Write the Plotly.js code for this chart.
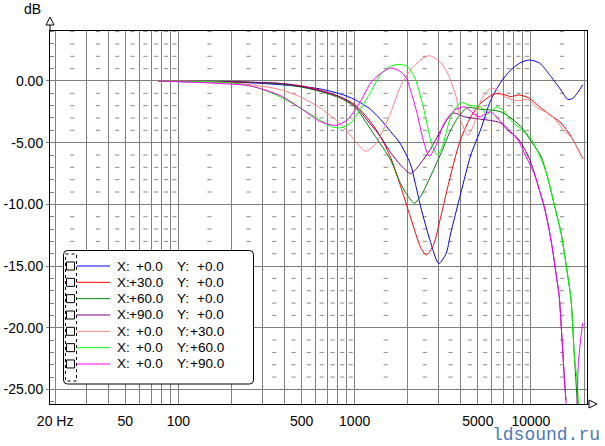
<!DOCTYPE html>
<html>
<head>
<meta charset="utf-8">
<script src="https://cdn.plot.ly/plotly-3.0.1.min.js"></script>
<style>html,body{margin:0;padding:0;background:#fff;}#chart{width:605px;height:446px;}</style>
</head>
<body>
<div id="chart"></div>
<script>
// ---------- data ----------
const fBlue = [77,100,200,300,500,640,830,1000,1230,1400,1600,1820,2080,2200,2370,2700,3000,3300,3500,4000,4560,5200,5900,6750,7690,8770,9800,11200,13000,14800,16200,17300,18500,19700];
const dbBlue = [0,-0.05,-0.1,-0.2,-0.45,-0.65,-1.05,-1.5,-2.3,-3.1,-4.1,-5.1,-6.8,-8.2,-10.2,-13.1,-14.8,-14.0,-12.4,-9.1,-6.0,-3.9,-1.6,-0.1,0.9,1.5,1.7,1.45,0.35,-0.73,-1.5,-1.4,-0.9,-0.3];

const fRed = [77,100,200,380,500,640,830,1000,1230,1400,1600,1820,2080,2370,2550,2800,3080,3400,3750,4000,4560,5200,6200,7020,7690,8530,9800,10900,12400,14800,16900,19700];
const dbRed = [0,-0.05,-0.08,-0.2,-0.4,-0.75,-1.3,-1.9,-3.3,-4.5,-6.2,-8.5,-11.1,-13.5,-14.1,-13.3,-11.0,-8.4,-6.0,-4.7,-2.9,-1.8,-1.05,-1.1,-1.27,-1.13,-1.4,-1.95,-2.6,-3.4,-4.5,-6.3];

const fGreen = [77,200,380,500,640,830,1000,1230,1400,1600,1820,2000,2180,2400,2700,3080,3500,3800,4300,4560,5200,5900,6750,7690,8770,9930,11400,12420,13500,14810,15800,16880,17640,18500];
const dbGreen = [0,-0.05,-0.25,-0.5,-0.85,-1.4,-2.1,-3.9,-5.1,-6.4,-8.3,-9.3,-9.9,-9.2,-7.7,-5.9,-4.0,-3.1,-2.2,-2.15,-2.3,-2.35,-2.5,-3.0,-3.7,-4.8,-6.1,-7.8,-9.9,-12.3,-14.8,-17.7,-22.3,-27];

const fPurple = [77,200,380,500,640,830,1000,1230,1400,1600,1820,2080,2300,2700,3080,3600,4200,5200,5900,6750,7380,8420,9350,9930,10680,11150,11900,12700,13280,13870,14480,14810,15140,15460,15800];
const dbPurple = [0,-0.05,-0.2,-0.45,-0.8,-1.3,-2.0,-3.5,-4.5,-5.8,-6.8,-7.5,-6.9,-5.5,-4.0,-2.6,-2.9,-3.1,-3.2,-3.4,-4.0,-4.65,-5.7,-6.5,-7.9,-8.8,-10.2,-12.1,-13.7,-15.6,-17.5,-19.6,-21.8,-24.0,-25.9];

const fPink = [77,150,256,380,493,640,833,1000,1150,1300,1405,1600,1825,2080,2370,2650,3080,3400,3750,4000,4400,4750,5195,5920,6420,7050,8420,9580,10910,12990,15400,17000,19700];
const dbPink = [0,-0.05,-0.3,-0.7,-1.3,-2.2,-3.5,-4.8,-5.7,-5.2,-4.4,-2.6,-0.4,0.9,1.7,2.05,1.5,0.5,-1.2,-3.2,-4.4,-3.5,-1.6,-0.6,-0.73,-1.27,-1.6,-1.5,-2.2,-2.75,-4.0,-4.6,-6.3];

const fLime = [77,170,205,256,300,380,493,641,740,833,950,1100,1233,1405,1600,1800,2000,2200,2450,2750,2950,3150,3510,4000,4560,5195,5600,6400,7100,7690,8770,9930,11400,12420,13500,14810,15800,16880,17260,17640,18250,18740];
const dbLime = [0,-0.1,-0.19,-0.4,-0.68,-1.3,-2.2,-3.2,-3.7,-3.8,-3.4,-2.1,-0.9,0.55,1.2,1.35,1.15,0.2,-2.1,-5.2,-6.0,-5.3,-2.9,-1.75,-2.0,-2.1,-2.7,-2.1,-2.5,-3.2,-3.9,-4.6,-6.3,-7.75,-9.9,-12.3,-14.8,-17.7,-19.9,-22.3,-24.2,-27];

const fMagenta = [77,100,170,256,380,493,641,780,900,1000,1100,1233,1405,1600,1825,1970,2080,2250,2450,2650,2900,3200,3700,4200,4700,5100,5900,6750,7690,8530,9350,10440,11150,11900,12700,13280,13870,14480,14810,15140,15460,15800,16900,18250,18570,19230,19670];
const dbMagenta = [0,-0.05,-0.2,-0.4,-1.2,-2.2,-3.3,-3.6,-3.2,-2.4,-1.45,-0.15,0.6,1.05,0.75,0.2,-0.8,-2.5,-4.8,-6.1,-5.2,-3.5,-2.35,-2.1,-2.6,-2.9,-2.5,-3.3,-4.1,-4.9,-6.1,-7.5,-8.8,-10.2,-12.1,-13.7,-15.6,-17.5,-19.6,-21.8,-24.0,-25.9,-31,-26.2,-22.9,-20.7,-19.6];

const seriesColors = ['#0000ff','#ff0000','#008000','#800080','#ff8080','#00ff00','#ff00ff'];
const legendX = ['+0.0','+30.0','+60.0','+90.0','+0.0','+0.0','+0.0'];
const legendY = ['+0.0','+0.0','+0.0','+0.0','+30.0','+60.0','+90.0'];

const xTickVals = [20,30,40,50,60,70,80,90,100,200,300,400,500,600,700,800,900,1000,2000,3000,4000,5000,6000,7000,8000,9000,10000,20000];
const xTickText = ['20 Hz','','','50','','','','','100','','','','500','','','','','1000','','','','5000','','','','','10000',''];
const yTickVals = [0,-5,-10,-15,-20,-25];
const yTickText = ['0.00','-5.00','-10.00','-15.00','-20.00','-25.00'];

// ---------- layout helpers ----------
const L = 50, R = 587, T = 31, B = 404;
const px = x => (x - L) / (R - L);
const py = y => (B - y) / (B - T);
const FONT = 'Liberation Sans, Arial, sans-serif';

const series = [
  [fBlue, dbBlue], [fRed, dbRed], [fGreen, dbGreen], [fPurple, dbPurple],
  [fPink, dbPink], [fLime, dbLime], [fMagenta, dbMagenta]
];

// dotted minor grid: short dashes at half-steps of each decade, every 1 dB
const gx = [], gy = [];
const halfSteps = [];
[10,100,1000,10000].forEach(d => { for (let k = 1; k <= 9; k++) { const f = (k + 0.5) * d; if (f > 19 && f < 20500) halfSteps.push(f); } });
for (let db = 4; db >= -25; db--) {
  if (db % 5 === 0) continue;
  halfSteps.forEach(f => { gx.push(f); gy.push(db); });
}

const traces = [{
  x: gx, y: gy, type: 'scatter', mode: 'markers', hoverinfo: 'skip',
  marker: { symbol: 'line-ew', size: 3, line: { width: 1, color: '#8a8a8a' }, color: '#8a8a8a' }
}];
series.forEach((s, i) => {
  traces.push({
    x: s[0], y: s[1], type: 'scatter', mode: 'lines', hoverinfo: 'skip',
    line: { color: seriesColors[i], width: 1, shape: 'spline', smoothing: 0.7 }
  });
});

// ---------- shapes ----------
const shapes = [];
function pathFromPx(pts, close) {
  return pts.map((p, i) => (i ? 'L' : 'M') + px(p[0]) + ',' + py(p[1])).join(' ') + (close ? ' Z' : '');
}
// rounded legend box
(function () {
  const x0 = 63.5, x1 = 253.5, y0 = 250.5, y1 = 384, r = 4;
  const P = (x, y) => px(x) + ',' + py(y);
  const d = 'M' + P(x0 + r, y0) + ' L' + P(x1 - r, y0) + ' Q' + P(x1, y0) + ' ' + P(x1, y0 + r) +
    ' L' + P(x1, y1 - r) + ' Q' + P(x1, y1) + ' ' + P(x1 - r, y1) +
    ' L' + P(x0 + r, y1) + ' Q' + P(x0, y1) + ' ' + P(x0, y1 - r) +
    ' L' + P(x0, y0 + r) + ' Q' + P(x0, y0) + ' ' + P(x0 + r, y0) + ' Z';
  shapes.push({ type: 'path', xref: 'paper', yref: 'paper', path: d, fillcolor: '#ffffff', line: { color: '#000', width: 1 }, layer: 'above' });
})();
shapes.push({ type: 'rect', xref: 'paper', yref: 'paper', x0: px(65.5), x1: px(76.5), y0: py(254), y1: py(381),
  line: { color: '#000', width: 1, dash: 'dot' }, layer: 'above' });

const rowY0 = 266, rowStep = 16.33;
const annotations = [];
seriesColors.forEach((c, i) => {
  const yy = rowY0 + i * rowStep;
  shapes.push({ type: 'rect', xref: 'paper', yref: 'paper', x0: px(66.5), x1: px(74.5), y0: py(yy - 4), y1: py(yy + 4),
    line: { color: '#000', width: 1 }, fillcolor: '#fff', layer: 'above' });
  shapes.push({ type: 'line', xref: 'paper', yref: 'paper', x0: px(76.5), x1: px(110), y0: py(yy), y1: py(yy),
    line: { color: c, width: 1 }, layer: 'above' });
  const base = { xref: 'paper', yref: 'paper', showarrow: false, yanchor: 'middle', y: py(yy), borderpad: 0,
    font: { family: FONT, size: 13.5, color: '#000' } };
  annotations.push(Object.assign({}, base, { text: 'X:', x: px(116), xanchor: 'left' }));
  annotations.push(Object.assign({}, base, { text: legendX[i], x: px(164), xanchor: 'right' }));
  annotations.push(Object.assign({}, base, { text: 'Y:', x: px(176), xanchor: 'left' }));
  annotations.push(Object.assign({}, base, { text: legendY[i], x: px(224.5), xanchor: 'right' }));
});

// axis arrows
shapes.push({ type: 'line', xref: 'paper', yref: 'paper', x0: 0, x1: 0, y0: py(31), y1: py(20), line: { color: '#000', width: 1 } });
shapes.push({ type: 'path', xref: 'paper', yref: 'paper', path: pathFromPx([[50, 17], [54, 25], [46, 25]], true),
  fillcolor: '#fff', line: { color: '#000', width: 1 } });
shapes.push({ type: 'line', xref: 'paper', yref: 'paper', x0: 1, x1: px(592), y0: 0, y1: 0, line: { color: '#000', width: 1 } });
shapes.push({ type: 'path', xref: 'paper', yref: 'paper', path: pathFromPx([[597, 404], [589, 400], [589, 408]], true),
  fillcolor: '#fff', line: { color: '#000', width: 1 } });

annotations.push({ xref: 'paper', yref: 'paper', x: px(43), xanchor: 'right', y: py(9), yanchor: 'middle',
  text: 'dB', showarrow: false, font: { family: FONT, size: 14, color: '#000' } });
annotations.push({ xref: 'paper', yref: 'paper', x: px(601), xanchor: 'right', y: py(446), yanchor: 'bottom', borderpad: 0,
  text: 'ldsound.ru', showarrow: false, font: { family: 'Liberation Mono, Courier New, monospace', size: 18, color: '#4f79b3' } });

const layout = {
  width: 605, height: 446,
  margin: { l: L, r: 605 - R, t: T, b: 446 - B, pad: 0 },
  paper_bgcolor: '#fff', plot_bgcolor: '#fff',
  showlegend: false, hovermode: false,
  font: { family: FONT, size: 14, color: '#000' },
  xaxis: {
    type: 'log', range: [Math.log10(18.7), Math.log10(20800)],
    tickmode: 'array', tickvals: xTickVals, ticktext: xTickText,
    showgrid: true, gridcolor: '#808080', gridwidth: 1,
    ticks: '', ticklabelstandoff: 4,
    showline: true, linecolor: '#000', linewidth: 1, mirror: true,
    zeroline: false, tickfont: { family: FONT, size: 14, color: '#000' }
  },
  yaxis: {
    range: [-26.18, 4.05],
    tickmode: 'array', tickvals: yTickVals, ticktext: yTickText,
    showgrid: true, gridcolor: '#808080', gridwidth: 1,
    ticks: 'outside', ticklen: 3, tickcolor: '#808080',
    minor: { tickmode: 'linear', tick0: 0, dtick: 1, ticks: 'inside', ticklen: 4, tickcolor: '#808080', showgrid: false },
    showline: true, linecolor: '#000', linewidth: 1, mirror: true,
    zeroline: false, tickfont: { family: FONT, size: 14, color: '#000' }
  },
  shapes: shapes,
  annotations: annotations
};

Plotly.newPlot('chart', traces, layout, { staticPlot: true, displayModeBar: false });
</script>
</body>
</html>
